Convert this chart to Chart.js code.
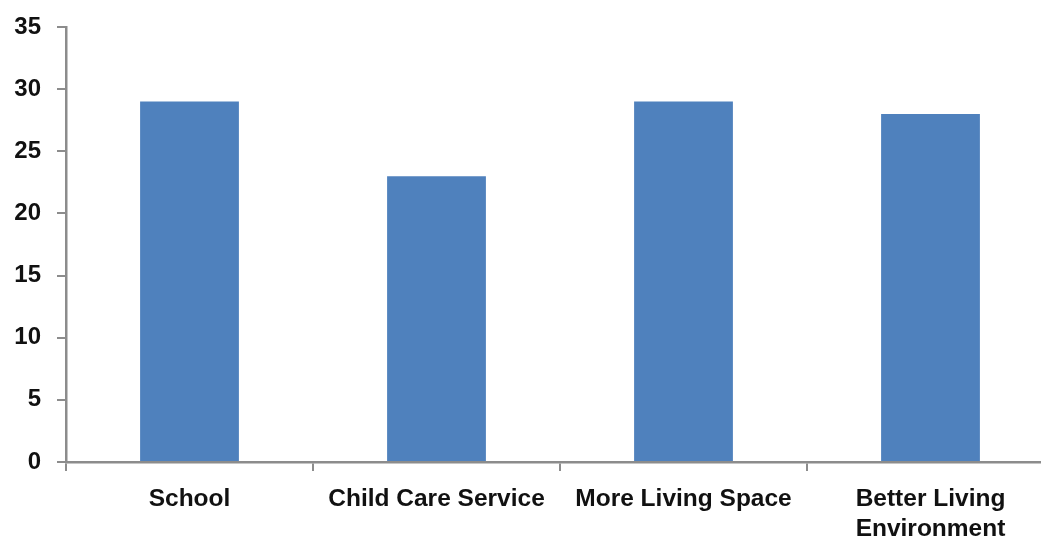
<!DOCTYPE html>
<html>
<head>
<meta charset="utf-8">
<script src="https://cdn.jsdelivr.net/npm/chart.js@4/dist/chart.umd.min.js"></script>
<style>
  html, body { margin: 0; padding: 0; background: #ffffff; overflow: hidden; }
  #wrap { width: 1060px; height: 544px; }
</style>
</head>
<body>
<div id="wrap"><canvas id="chart" width="1060" height="544"></canvas></div>
<script>
// Reasons given for moving house (count of responses)
const categories = ['School', 'Child Care Service', 'More Living Space', ['Better Living', 'Environment']];
const responses = [29, 23, 29, 28];
const yTicks = [0, 5, 10, 15, 20, 25, 30, 35];

const axisGrey = '#8c8c8c';
const barBlue = '#4f81bd';

new Chart(document.getElementById('chart'), {
  type: 'bar',
  data: {
    labels: categories,
    datasets: [{
      data: responses,
      backgroundColor: barBlue,
      borderWidth: 0,
      categoryPercentage: 1,
      barPercentage: 0.4
    }]
  },
  options: {
    responsive: false,
    devicePixelRatio: 1,
    animation: false,
    layout: { padding: { top: 27, right: 6, left: 0, bottom: 0 } },
    plugins: { legend: { display: false }, tooltip: { enabled: false } },
    scales: {
      x: {
        grid: { display: true, drawOnChartArea: false, drawTicks: true, tickLength: 9, color: axisGrey, lineWidth: 2, offset: true },
        border: { display: true, color: axisGrey, width: 2.5 },
        ticks: {
          color: '#111111',
          font: { family: '"Liberation Sans", Arial, sans-serif', size: 24.5, weight: 'bold', lineHeight: 1.22 },
          padding: 13,
          maxRotation: 0,
          minRotation: 0,
          autoSkip: false
        },
        afterFit: (scale) => { scale.height = 82; }
      },
      y: {
        min: 0,
        max: 35,
        afterBuildTicks: (scale) => { scale.ticks = yTicks.map(v => ({ value: v })); },
        grid: { display: true, drawOnChartArea: false, drawTicks: true, tickLength: 9, color: axisGrey, lineWidth: 2 },
        border: { display: true, color: axisGrey, width: 2.5 },
        ticks: {
          color: '#111111',
          font: { family: '"Liberation Sans", Arial, sans-serif', size: 24, weight: 'bold' },
          padding: 16
        },
        afterFit: (scale) => {
          scale.width = 66;
          scale.paddingTop = 0;
          scale.paddingBottom = 0;
        }
      }
    }
  }
});
</script>
</body>
</html>
